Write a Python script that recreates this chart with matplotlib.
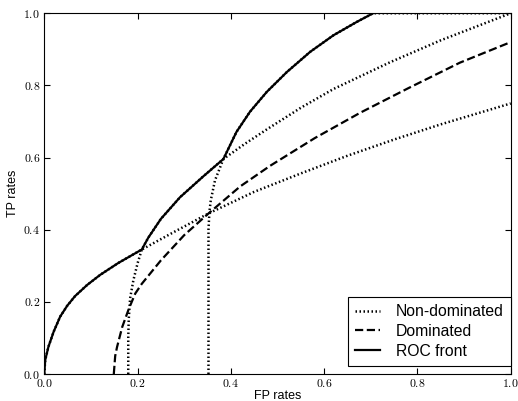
#!/usr/bin/env python3

import numpy as np
import matplotlib
matplotlib.use("Agg")
import matplotlib.pyplot as plt
from matplotlib.ticker import FormatStrFormatter

plt.rcParams['mathtext.fontset'] = 'cm'
plt.rcParams['font.family'] = ['Liberation Sans', 'DejaVu Sans']

# curves (FP rate, TP rate)
nd1_fp = [0.0, 0.002, 0.009, 0.020, 0.034, 0.049, 0.066, 0.092, 0.120, 0.159, 0.209,
          0.28, 0.352, 0.45, 0.55, 0.65, 0.75, 0.85, 1.0]
nd1_tp = [0.0, 0.039, 0.076, 0.117, 0.159, 0.189, 0.216, 0.247, 0.275, 0.308, 0.345,
          0.395, 0.445, 0.505, 0.556, 0.605, 0.65, 0.692, 0.75]

nd2_fp = [0.18, 0.18, 0.181, 0.184, 0.191, 0.200, 0.209, 0.223, 0.25, 0.291, 0.341,
          0.384, 0.43, 0.477, 0.55, 0.62, 0.741, 0.85, 1.0]
nd2_tp = [0.0, 0.10, 0.15, 0.21, 0.26, 0.307, 0.345, 0.378, 0.43, 0.49, 0.548,
          0.596, 0.638, 0.678, 0.738, 0.79, 0.864, 0.925, 1.0]

nd3_fp = [0.352, 0.352, 0.354, 0.357, 0.366, 0.384, 0.412, 0.441, 0.477, 0.52,
          0.57, 0.62, 0.67, 0.705, 1.0]
nd3_tp = [0.0, 0.40, 0.45, 0.482, 0.537, 0.596, 0.671, 0.727, 0.782, 0.837,
          0.893, 0.939, 0.976, 1.0, 1.0]

dom_fp = [0.149, 0.152, 0.156, 0.167, 0.181, 0.195, 0.209, 0.25, 0.30, 0.352,
          0.42, 0.484, 0.58, 0.677, 0.78, 0.891, 1.0]
dom_tp = [0.0, 0.05, 0.075, 0.13, 0.18, 0.223, 0.25, 0.315, 0.385, 0.445,
          0.52, 0.577, 0.654, 0.724, 0.792, 0.863, 0.92]

# where the front switches from one curve to the next
switch_fp = [0.209, 0.384, 0.705]

# front = upper envelope pieces
a_fp, a_tp = np.array(nd1_fp), np.array(nd1_tp)
b_fp, b_tp = np.array(nd2_fp), np.array(nd2_tp)
c_fp, c_tp = np.array(nd3_fp), np.array(nd3_tp)
m1 = a_fp <= switch_fp[0]
m2 = (b_fp > switch_fp[0]) & (b_fp <= switch_fp[1])
m3 = (c_fp > switch_fp[1]) & (c_fp <= switch_fp[2])
front_fp = np.concatenate([a_fp[m1], b_fp[m2], c_fp[m3]])
front_tp = np.concatenate([a_tp[m1], b_tp[m2], c_tp[m3]])

fig, ax = plt.subplots(figsize=(5.18, 4.01), dpi=100)
fig.subplots_adjust(left=0.0855, right=0.986, bottom=0.0673, top=0.967)

dots = (0.6, 1.0)
ax.plot(nd1_fp, nd1_tp, color="k", lw=1.8, dashes=dots, label="Non-dominated")
ax.plot(nd2_fp, nd2_tp, color="k", lw=1.8, dashes=dots)
ax.plot(nd3_fp, nd3_tp, color="k", lw=1.8, dashes=dots)
ax.plot(dom_fp, dom_tp, "--", color="k", lw=1.6, label="Dominated")
ax.plot(front_fp, front_tp, "-", color="k", lw=1.6, label="ROC front")

ax.set_xlim(0, 1)
ax.set_ylim(0, 1)
ax.set_xticks(np.arange(0, 1.01, 0.2))
ax.set_yticks(np.arange(0, 1.01, 0.2))
ax.xaxis.set_major_formatter(FormatStrFormatter(r"$%.1f$"))
ax.yaxis.set_major_formatter(FormatStrFormatter(r"$%.1f$"))
ax.tick_params(direction="in", top=True, right=True, length=4, labelsize=8.5, pad=3)
ax.set_xlabel("FP rates", fontsize=9, labelpad=0)
ax.set_ylabel("TP rates", fontsize=9, labelpad=3)

leg = ax.legend(loc="lower right", bbox_to_anchor=(1.0, 0.023), fontsize=11.3,
                fancybox=False, framealpha=1, borderaxespad=0, borderpad=0.45,
                handlelength=1.6, handletextpad=1.0, labelspacing=0.3)
leg.get_frame().set_edgecolor("k")
leg.get_frame().set_linewidth(0.8)

fig.savefig("out.png", dpi=100)
